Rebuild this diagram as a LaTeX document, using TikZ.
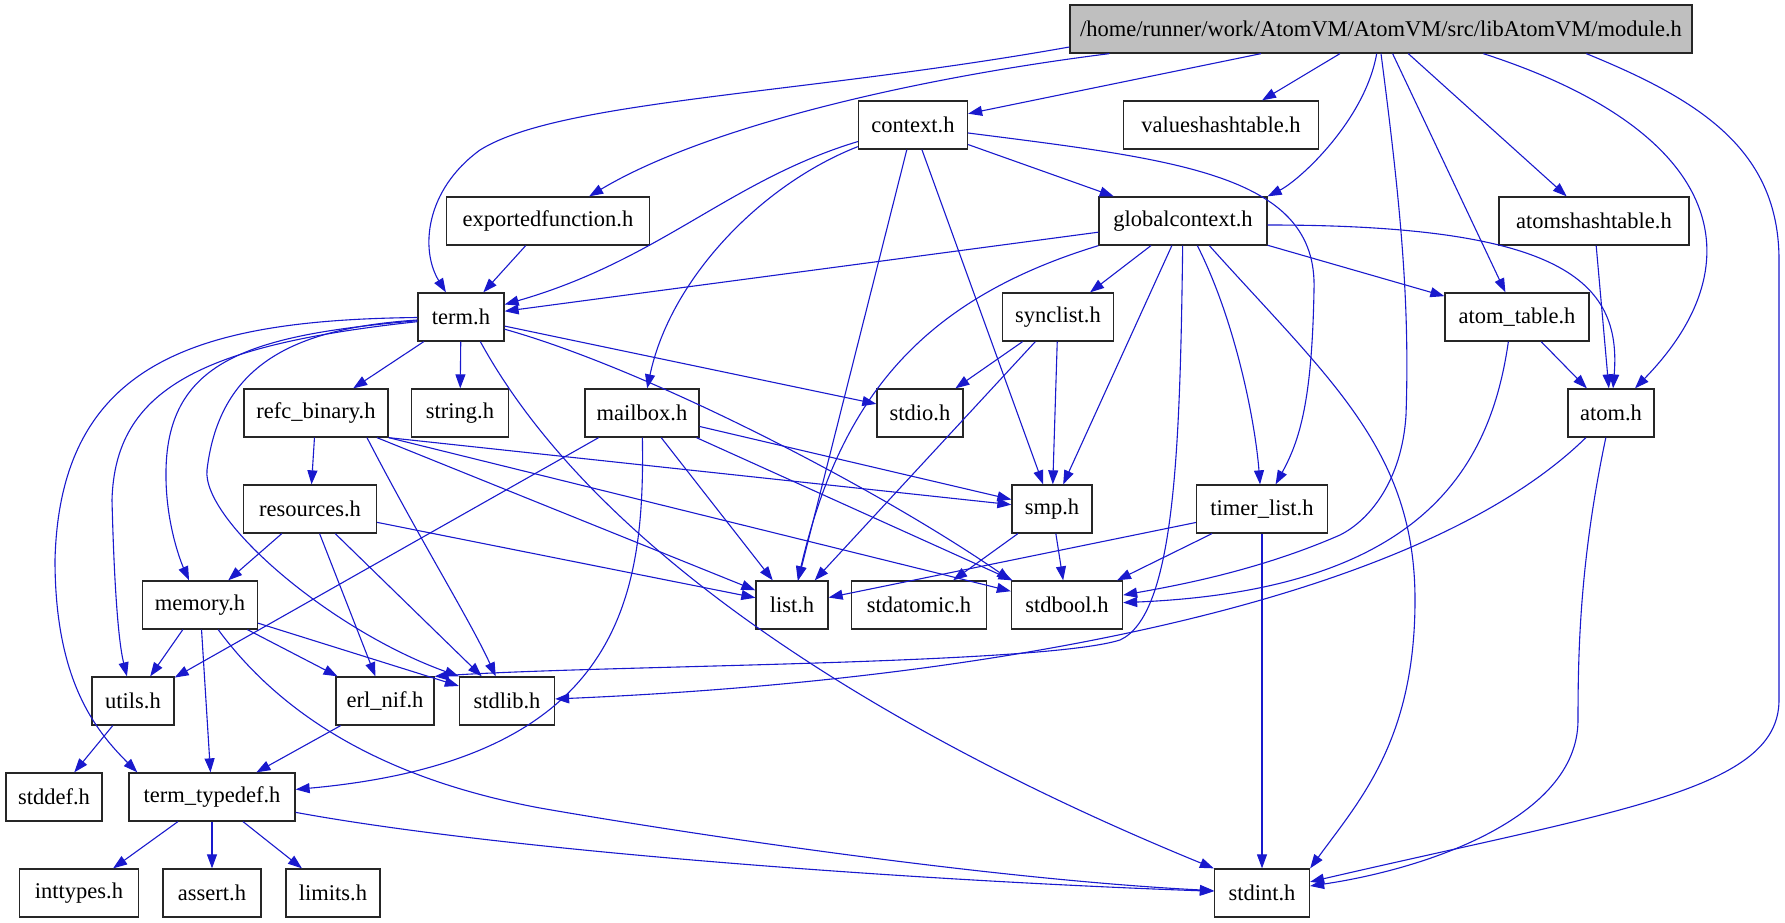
\documentclass[tikz,border=0pt]{standalone}
\usepackage{fontspec}
\setmainfont{Liberation Serif}
\usetikzlibrary{arrows.meta}
\definecolor{edgeblue}{HTML}{1919CD}
\definecolor{mainfill}{HTML}{BFBFBF}

\begin{document}
\begin{tikzpicture}[x=1pt,y=-1pt,>={Triangle[length=14pt,width=10pt]}]
\tikzstyle{file}=[draw=black!85,fill=white,line width=1.3pt,minimum height=48pt,inner sep=0pt,font=\fontsize{22.5}{26}\selectfont]
\tikzstyle{main file}=[file,fill=mainfill]
\tikzstyle{inc}=[draw=edgeblue,line width=1.1pt,->]
\tikzstyle{every edge}=[inc]

\useasboundingbox (0,0) rectangle (1785,923);

% Draw the header files, row by row
\node[main file,minimum width=622pt] (mod) at (1381,29) {/home/runner/work/AtomVM/AtomVM/src/libAtomVM/module.h};

\node[file,minimum width=109pt] (ctx) at (913,125) {context.h};
\node[file,minimum width=195pt] (vht) at (1221,125) {valueshashtable.h};

\node[file,minimum width=203pt] (expf) at (548,221) {exportedfunction.h};
\node[file,minimum width=168pt] (gctx) at (1183,221) {globalcontext.h};
\node[file,minimum width=190pt] (aht) at (1594,221) {atomshashtable.h};

\node[file,minimum width=86pt] (term) at (461,317) {term.h};
\node[file,minimum width=111pt] (sync) at (1058,317) {synclist.h};
\node[file,minimum width=144pt] (atbl) at (1517,317) {atom\_table.h};

\node[file,minimum width=144pt] (refc) at (316,413) {refc\_binary.h};
\node[file,minimum width=97pt] (str) at (460,413) {string.h};
\node[file,minimum width=114pt] (mbox) at (642,413) {mailbox.h};
\node[file,minimum width=86pt] (stdio) at (920,413) {stdio.h};
\node[file,minimum width=86pt] (atom) at (1611,413) {atom.h};

\node[file,minimum width=133pt] (res) at (310,509) {resources.h};
\node[file,minimum width=80pt] (smp) at (1052,509) {smp.h};
\node[file,minimum width=131pt] (tmr) at (1262,509) {timer\_list.h};

\node[file,minimum width=115pt] (mem) at (200,605) {memory.h};
\node[file,minimum width=72pt] (list) at (792,605) {list.h};
\node[file,minimum width=135pt] (satom) at (919,605) {stdatomic.h};
\node[file,minimum width=111pt] (sbool) at (1067,605) {stdbool.h};

\node[file,minimum width=82pt] (utils) at (133,701) {utils.h};
\node[file,minimum width=98pt] (nif) at (385,701) {erl\_nif.h};
\node[file,minimum width=95pt] (slib) at (507,701) {stdlib.h};

\node[file,minimum width=96pt] (sdef) at (54,797) {stddef.h};
\node[file,minimum width=166pt] (ttd) at (212,797) {term\_typedef.h};

\node[file,minimum width=119pt] (inttyp) at (79,893) {inttypes.h};
\node[file,minimum width=98pt] (assrt) at (212,893) {assert.h};
\node[file,minimum width=94pt] (lim) at (333,893) {limits.h};
\node[file,minimum width=95pt] (sint) at (1262,893) {stdint.h};

% Connect the includes that run straight
\foreach \src/\dst in {mod/ctx,mod/vht,mod/atbl,mod/aht,
  ctx/list,ctx/smp,ctx/gctx,expf/term,
  gctx/term,gctx/smp,gctx/sync,gctx/atbl,
  sync/stdio,sync/smp,sync/list,atbl/atom,aht/atom,
  term/refc,term/str,term/stdio,
  mbox/utils,mbox/list,mbox/smp,mbox/sbool,
  refc/res,refc/list,res/mem,res/nif,res/slib,res/list,
  smp/satom,smp/sbool,tmr/list,tmr/sbool,tmr/sint,
  mem/utils,mem/ttd,mem/nif,mem/slib,
  utils/sdef,nif/ttd,ttd/inttyp,ttd/assrt,ttd/lim}
  \path (\src) edge (\dst);

% module.h
\draw[inc] ([yshift=-18pt]mod.west) .. controls (800,95) and (560,100) .. (480,150) .. controls (425,190) and (420,250) .. (term);
\draw[inc] ([xshift=40pt]mod.south west) .. controls (900,80) and (700,130) .. (expf);
\draw[inc] (mod) .. controls (1365,120) and (1300,180) .. (gctx.north east);
\draw[inc] (mod.south) .. controls (1400,200) and (1410,300) .. (1406,415) .. controls (1402,480) and (1370,520) .. (1340,535) .. controls (1260,570) and (1180,585) .. (sbool);
\draw[inc] ([xshift=414pt]mod.south west) .. controls (1720,130) and (1760,260) .. (atom);
\draw[inc] ([xshift=517pt]mod.south west) .. controls (1700,100) and (1779,150) .. (1779,260) -- (1779,700) .. controls (1779,790) and (1620,810) .. (sint);

% context.h
\draw[inc] (ctx) .. controls (730,180) and (660,260) .. (term);
\draw[inc] (ctx) .. controls (760,185) and (670,280) .. (mbox);
\draw[inc] ([yshift=-8pt]ctx.east) .. controls (1180,160) and (1318,175) .. (1314,290) .. controls (1312,400) and (1300,440) .. (tmr);

% globalcontext.h
\draw[inc] (gctx.south west) .. controls (920,300) and (840,400) .. (list);
\draw[inc] (gctx) .. controls (1180,450) and (1175,615) .. (1120,640) .. controls (1040,665) and (600,665) .. (nif.north east);
\draw[inc] ([xshift=99pt]gctx.south west) .. controls (1235,320) and (1255,420) .. (tmr);
\draw[inc] ([xshift=111pt]gctx.south west) .. controls (1330,380) and (1415,450) .. (1415,600) .. controls (1415,740) and (1360,800) .. (sint.north east);
\draw[inc] ([yshift=-4pt]gctx.east) .. controls (1560,225) and (1622,280) .. (atom);

% atom_table.h and atom.h
\draw[inc] ([xshift=64pt]atbl.south west) .. controls (1490,470) and (1420,590) .. (sbool);
\draw[inc] (atom) .. controls (1420,600) and (1000,680) .. (slib);
\draw[inc] (atom) .. controls (1580,560) and (1578,650) .. (1578,720) .. controls (1578,820) and (1420,870) .. (sint);

% term.h
\draw[inc] (term) .. controls (650,370) and (880,490) .. (sbool.north west);
\draw[inc] ([xshift=63pt]term.south west) .. controls (600,560) and (900,740) .. (sint.north west);
\draw[inc] (term) .. controls (200,320) and (60,360) .. (55,560) .. controls (55,680) and (95,730) .. ([xshift=9pt]ttd.north west);
\draw[inc] (term) .. controls (200,345) and (115,390) .. (112,500) .. controls (114,580) and (118,640) .. (utils);
\draw[inc] (term) .. controls (250,335) and (168,360) .. (166,470) .. controls (165,520) and (180,560) .. (mem);
\draw[inc] (term) .. controls (300,328) and (220,360) .. (207,470) .. controls (202,520) and (330,630) .. (slib.north west);

% mailbox.h and refc_binary.h
\draw[inc] (mbox) .. controls (645,600) and (620,760) .. (ttd);
\draw[inc] (refc.south east) -- (smp);
\draw[inc] (refc.south east) -- (sbool);
\draw[inc] ([xshift=51pt]refc.south) .. controls (420,540) and (470,620) .. (slib);

% memory.h and term_typedef.h
\draw[inc] (mem) .. controls (285,720) and (390,780) .. (540,808) .. controls (700,836) and (1000,880) .. (sint);
\draw[inc] (ttd) .. controls (500,850) and (900,880) .. (sint);
\end{tikzpicture}
\end{document}
